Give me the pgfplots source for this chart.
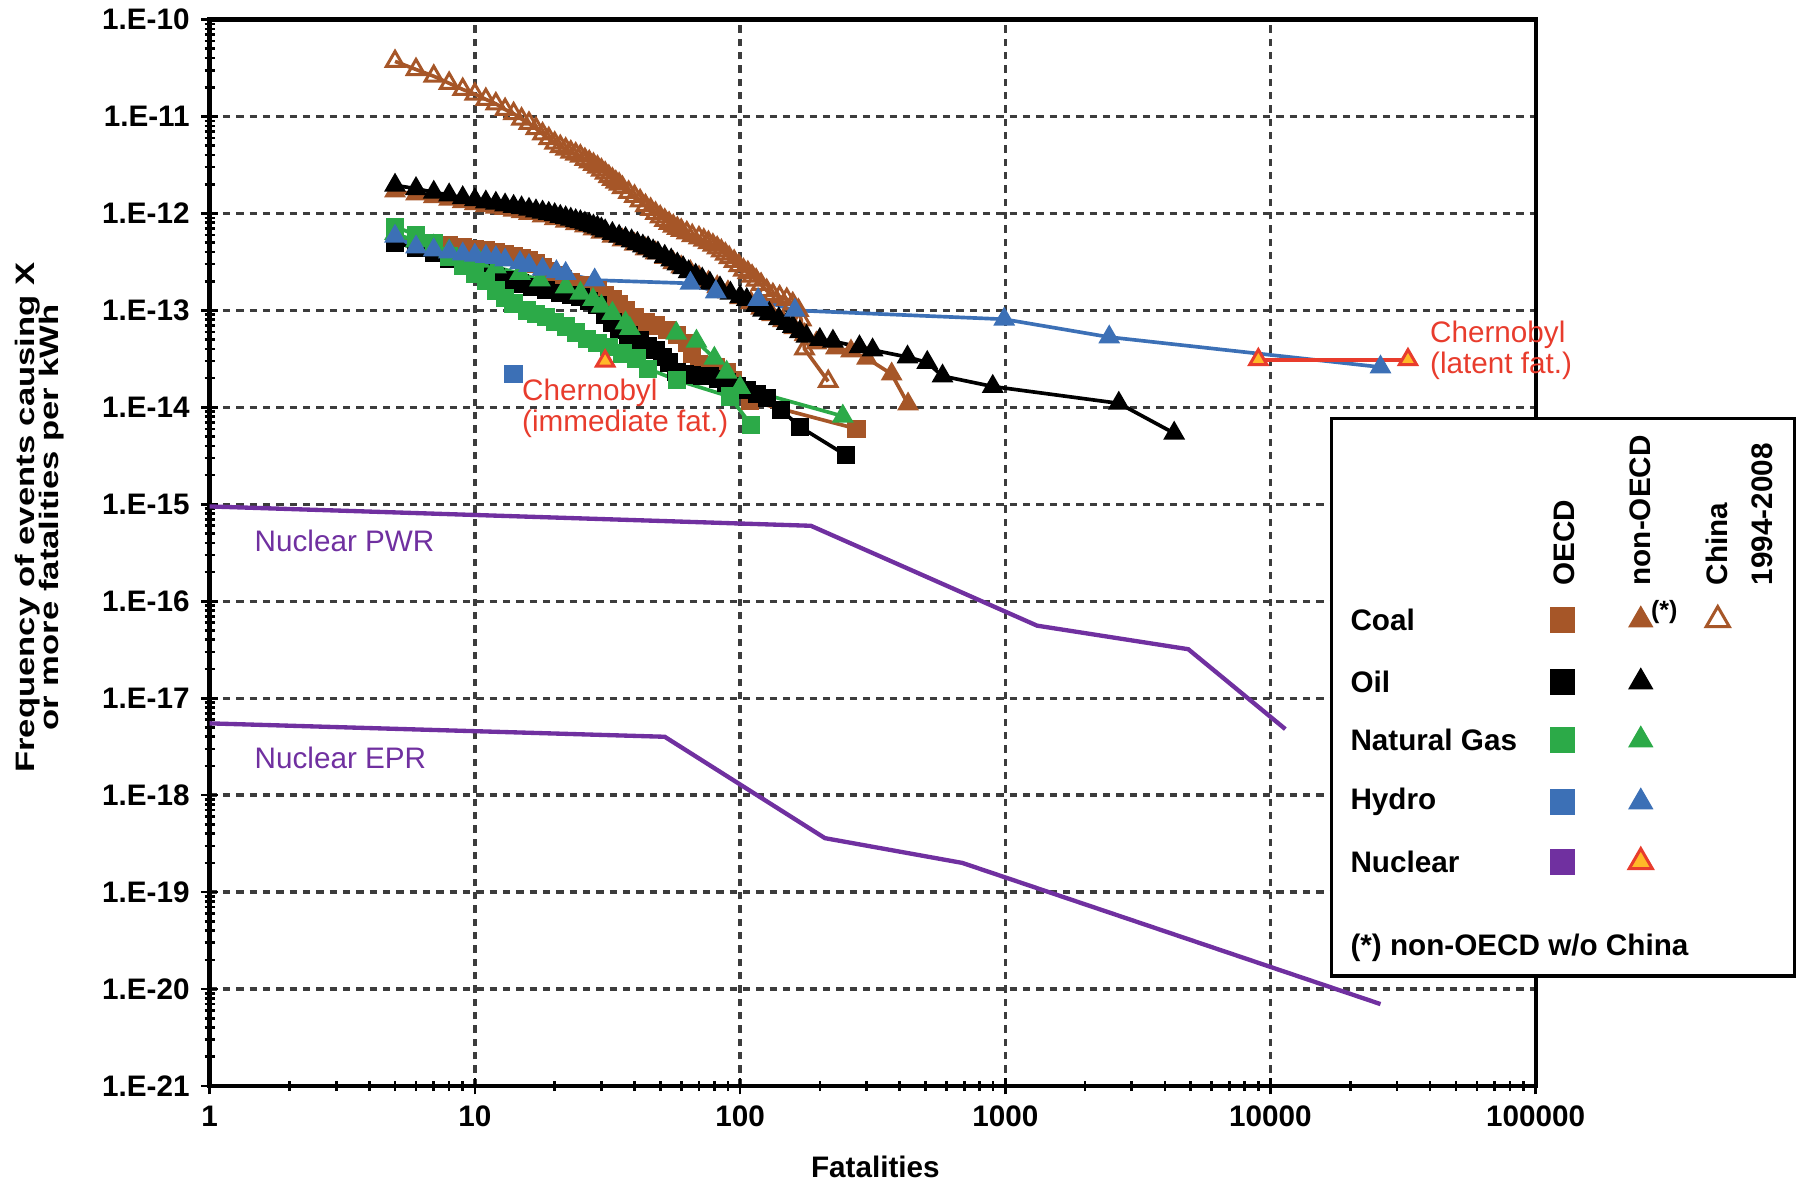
\documentclass[border=0pt]{standalone}
\usepackage{pgfplots}
\pgfplotsset{compat=1.18}
\usepackage{fontspec}
\setmainfont{Liberation Sans}
\usepackage{graphicx}

\definecolor{coal}{RGB}{166,86,40}
\definecolor{gas}{RGB}{44,170,72}
\definecolor{hydro}{RGB}{60,112,182}
\definecolor{nuc}{RGB}{112,48,160}
\definecolor{cher}{RGB}{232,60,45}
\definecolor{chfill}{RGB}{255,185,40}
\definecolor{gridc}{RGB}{60,60,60}

\begin{document}
\begin{tikzpicture}
\begin{axis}[
  at={(0pt,0pt)}, anchor=south west,
  scale only axis, width=397.8pt, height=319.95pt,
  xmode=log, ymode=log,
  xmin=1, xmax=100000, ymin=1e-21, ymax=1e-10,
  xtickten={0,...,5}, ytickten={-21,...,-10},
  xticklabels={1,10,100,1000,10000,100000},
  yticklabels={1.E-21,1.E-20,1.E-19,1.E-18,1.E-17,1.E-16,1.E-15,1.E-14,1.E-13,1.E-12,1.E-11,1.E-10},
  tick label style={font=\fontsize{8.9}{10}\selectfont\bfseries},
  grid=major,
  major grid style={gridc, line width=1pt, dash pattern=on 2.2pt off 1.8pt},
  axis line style={line width=1.3pt},
  tick style={black, line width=0.8pt},
  tick align=center, major tick length=5pt, minor tick length=3pt,
  tick pos=left,
  xlabel={Fatalities},
  xlabel style={font=\fontsize{8.9}{10}\selectfont\bfseries, at={(axis description cs:0.502,-0.0756)}, anchor=center},
  ylabel={\scalebox{1.3}[1]{\begin{tabular}{@{}c@{}}Frequency of events causing X\\[-1.2pt] or more fatalities per kWh\end{tabular}}},
  ylabel style={font=\fontsize{8}{8.4}\selectfont\bfseries, at={(axis description cs:-0.127,0.533)}, anchor=center},
  clip=false,
  every axis plot/.append style={line width=1.1pt},
]
% China 1994-2008 (open triangles)
\addplot[coal, mark=triangle, mark size=3pt, mark options={fill=white, line width=0.9pt}] coordinates {
(5,3.7e-11)(6,3.05e-11)(7,2.6e-11)(8,2.2e-11)(9,1.9e-11)(10,1.7e-11)(11,1.5e-11)(12,1.35e-11)(13,1.18e-11)(14,1.07e-11)(15,9.4e-12)(16,8.5e-12)(17,7.5e-12)(18,6.6e-12)(19,5.9e-12)(20,5.3e-12)(21,4.9e-12)(22,4.6e-12)(23,4.3e-12)(24,4.1e-12)(25,3.9e-12)(26,3.6e-12)(27,3.4e-12)(28,3.2e-12)(29,3.0e-12)(30,2.8e-12)(31,2.6e-12)(32,2.4e-12)(33,2.25e-12)(34,2.1e-12)(35,2.0e-12)(36,1.85e-12)(38,1.65e-12)(40,1.5e-12)(42,1.35e-12)(44,1.2e-12)(46,1.1e-12)(48,1.0e-12)(50,9.2e-13)(52,8.5e-13)(54,7.9e-13)(56,7.4e-13)(58,7.0e-13)(60,6.7e-13)(63,6.3e-13)(66,5.9e-13)(70,5.6e-13)(73,5.3e-13)(76,5.0e-13)(79,4.7e-13)(82,4.4e-13)(85,4.1e-13)(88,3.8e-13)(91,3.5e-13)(95,3.2e-13)(99,2.9e-13)(103,2.6e-13)(107,2.45e-13)(111,2.25e-13)(115,2.05e-13)(120,1.85e-13)(126,1.6e-13)(133,1.45e-13)(141,1.38e-13)(150,1.3e-13)(158,1.17e-13)(166,1.0e-13)(170,8e-14)(175,4.0e-14)(215,1.85e-14)
};
% Coal non-OECD (filled triangles)
\addplot[coal, mark=triangle*, mark size=2.7pt] coordinates {
(5,1.7e-12)(6,1.58e-12)(7,1.48e-12)(8,1.4e-12)(9,1.32e-12)(10,1.26e-12)(11,1.2e-12)(12,1.16e-12)(13,1.12e-12)(14,1.08e-12)(15,1.04e-12)(16,1.0e-12)(18,9.4e-13)(20,8.8e-13)(22,8.3e-13)(24,7.8e-13)(26,7.4e-13)(28,6.9e-13)(30,6.4e-13)(33,5.8e-13)(36,5.3e-13)(40,4.8e-13)(44,4.3e-13)(48,3.9e-13)(52,3.5e-13)(56,3.1e-13)(60,2.8e-13)(65,2.5e-13)(70,2.2e-13)(76,1.95e-13)(82,1.75e-13)(90,1.55e-13)(100,1.35e-13)(110,1.2e-13)(120,1.05e-13)(132,9.0e-14)(145,7.8e-14)(160,6.6e-14)(175,5.6e-14)(194,4.6e-14)(230,4.1e-14)(262,3.8e-14)(301,3.2e-14)(373,2.2e-14)(430,1.08e-14)
};
% Oil non-OECD (black triangles)
\addplot[black, mark=triangle*, mark size=2.7pt] coordinates {
(5,1.95e-12)(6,1.8e-12)(7,1.65e-12)(8,1.55e-12)(9,1.45e-12)(10,1.38e-12)(11,1.31e-12)(12,1.27e-12)(13,1.22e-12)(14,1.18e-12)(15,1.14e-12)(16,1.1e-12)(17,1.06e-12)(18,1.03e-12)(19,1.0e-12)(20,9.7e-13)(21,9.3e-13)(22,9.0e-13)(23,8.7e-13)(24,8.4e-13)(25,8.2e-13)(26,7.9e-13)(27,7.7e-13)(28,7.4e-13)(29,7.2e-13)(30,6.9e-13)(31,6.6e-13)(33,6.2e-13)(35,5.8e-13)(37,5.5e-13)(39,5.2e-13)(41,4.9e-13)(43,4.6e-13)(45,4.4e-13)(47,4.1e-13)(49,3.9e-13)(52,3.6e-13)(55,3.3e-13)(58,3.0e-13)(61,2.75e-13)(64,2.5e-13)(68,2.3e-13)(72,2.1e-13)(77,1.9e-13)(84,1.7e-13)(92,1.5e-13)(100,1.38e-13)(106,1.29e-13)(115,1.12e-13)(122,1.0e-13)(129,9.3e-14)(140,8.2e-14)(150,7.3e-14)(158,6.8e-14)(168,6.0e-14)(178,5.4e-14)(200,5.0e-14)(224,4.8e-14)(282,4.2e-14)(316,3.9e-14)(428,3.3e-14)(508,2.9e-14)(580,2.1e-14)(897,1.64e-14)(2680,1.1e-14)(4335,5.4e-15)
};
% Coal OECD (squares)
\addplot[coal, mark=square*, mark size=2.2pt] coordinates {
(5,5.3e-13)(6,5.1e-13)(7,4.9e-13)(8,4.7e-13)(9,4.5e-13)(10,4.3e-13)(11,4.15e-13)(12,4.0e-13)(13,3.8e-13)(14,3.6e-13)(15,3.45e-13)(16,3.3e-13)(17,3.05e-13)(18,2.8e-13)(19,2.55e-13)(20,2.3e-13)(21.5,2.1e-13)(23,1.95e-13)(25,1.8e-13)(27,1.7e-13)(29,1.6e-13)(31,1.45e-13)(33,1.3e-13)(35,1.15e-13)(37,1.0e-13)(40,8.6e-14)(44,7.6e-14)(48,7.0e-14)(53,6.3e-14)(58,5.6e-14)(63,4.6e-14)(66,3.6e-14)(70,2.8e-14)(76,2.7e-14)(81,2.6e-14)(89,2.3e-14)(94,1.9e-14)(100,1.5e-14)(109,1.17e-14)(275,6.0e-15)
};
% Oil OECD (squares)
\addplot[black, mark=square*, mark size=2.2pt] coordinates {
(5,5.0e-13)(6,4.4e-13)(7,3.9e-13)(8,3.4e-13)(9,3.0e-13)(10,2.7e-13)(11,2.45e-13)(12,2.2e-13)(13,2.05e-13)(14.8,1.9e-13)(16.5,1.75e-13)(18.6,1.62e-13)(21,1.5e-13)(23,1.43e-13)(25,1.38e-13)(27,1.25e-13)(29,1.13e-13)(31,9e-14)(33,7.5e-14)(35,6.3e-14)(38,5.6e-14)(42,4.9e-14)(45,4.3e-14)(48,3.9e-14)(51,3.3e-14)(54,2.9e-14)(57.6,2.3e-14)(62,2.2e-14)(66,2.15e-14)(72,2.12e-14)(77,2.1e-14)(83,1.95e-14)(89,1.8e-14)(97,1.65e-14)(106,1.5e-14)(116,1.37e-14)(126,1.24e-14)(143,9.4e-15)(168,6.3e-15)(251,3.2e-15)
};
% Natural gas OECD (squares)
\addplot[gas, mark=square*, mark size=2.2pt] coordinates {
(5,7.3e-13)(6,6.0e-13)(7,4.9e-13)(8,3.6e-13)(9,2.9e-13)(10,2.4e-13)(11,2.0e-13)(12,1.6e-13)(13,1.35e-13)(14,1.18e-13)(15.7,1.0e-13)(17,9.2e-14)(18.6,8.6e-14)(20,7.6e-14)(22,6.8e-14)(24,5.9e-14)(26.4,5.1e-14)(29,4.6e-14)(32,4.2e-14)(36,3.6e-14)(40.7,3.2e-14)(45,2.5e-14)(58,1.9e-14)(91.5,1.29e-14)(110,6.6e-15)
};
% Natural gas non-OECD (triangles)
\addplot[gas, mark=triangle*, mark size=2.7pt] coordinates {
(5,6.2e-13)(6,5.2e-13)(7,4.6e-13)(8,4.1e-13)(9,3.6e-13)(10.4,3.2e-13)(12,2.8e-13)(14.8,2.4e-13)(17.6,2.05e-13)(22,1.74e-13)(25,1.5e-13)(27.9,1.29e-13)(30,1.1e-13)(33,9.3e-14)(37,7.4e-14)(38.4,6.5e-14)(57.5,5.8e-14)(68.5,4.8e-14)(80,3.2e-14)(89,2.3e-14)(100,1.6e-14)(244,8.1e-15)
};
% Hydro non-OECD (triangles)
\addplot[hydro, mark=triangle*, mark size=2.7pt] coordinates {
(5,5.8e-13)(6,4.5e-13)(7,4.2e-13)(8,4.0e-13)(9,3.8e-13)(10,3.7e-13)(11,3.6e-13)(12,3.5e-13)(13,3.3e-13)(14.8,3.1e-13)(16,2.9e-13)(18,2.65e-13)(20.3,2.5e-13)(22,2.4e-13)(28.3,2.05e-13)(65,1.9e-13)(81,1.55e-13)(117,1.29e-13)(161,1.0e-13)(991,8.1e-14)(2466,5.3e-14)(26000,2.6e-14)
};
% Hydro OECD (single square)
\addplot[hydro, only marks, mark=square*, mark size=2.2pt] coordinates {(14,2.2e-14)};
% Nuclear PWR / EPR
\addplot[nuc, no marks, line width=1.3pt] coordinates {(1,9.5e-16)(185,6.0e-16)(1318,5.6e-17)(4900,3.2e-17)(11380,4.8e-18)};
\addplot[nuc, no marks, line width=1.3pt] coordinates {(1,5.5e-18)(52,4.0e-18)(209,3.6e-19)(689,2.0e-19)(26000,7e-21)};
% Chernobyl
\addplot[cher, mark=triangle*, mark size=3pt, mark options={fill=chfill, draw=cher, line width=0.9pt}] coordinates {(9000,3.1e-14)(33000,3.1e-14)};
\addplot[cher, only marks, mark=triangle*, mark size=3pt, mark options={fill=chfill, draw=cher, line width=0.9pt}] coordinates {(31,3.0e-14)};

\node[anchor=west, text=nuc, font=\fontsize{8.9}{10}\selectfont] at (axis cs:1.335,4.18e-16) {Nuclear PWR};
\node[anchor=west, text=nuc, font=\fontsize{8.9}{10}\selectfont] at (axis cs:1.335,2.4e-18) {Nuclear EPR};
\node[anchor=west, text=cher, align=left, inner sep=0pt, font=\fontsize{8.9}{9.3}\selectfont] at (axis cs:15,9.7e-15) {Chernobyl\\(immediate fat.)};
\node[anchor=west, text=cher, align=left, inner sep=0pt, font=\fontsize{8.9}{9.3}\selectfont] at (axis cs:39800,3.84e-14) {Chernobyl\\(latent fat.)};
\end{axis}

% Legend box
\begin{axis}[
  at={(336.6pt,33pt)}, anchor=south west,
  scale only axis, width=138.8pt, height=167.2pt,
  xmin=1331.8, xmax=1794.6, ymin=418.7, ymax=976, y dir=reverse,
  ticks=none, axis line style={line width=1pt},
  axis background/.style={fill=white},
  clip=false,
]
\addplot[coal, only marks, mark=square*, mark size=3.6pt] coordinates {(1563,620)};
\addplot[black, only marks, mark=square*, mark size=3.6pt] coordinates {(1563,682)};
\addplot[gas, only marks, mark=square*, mark size=3.6pt] coordinates {(1563,740)};
\addplot[hydro, only marks, mark=square*, mark size=3.6pt] coordinates {(1563,802)};
\addplot[nuc, only marks, mark=square*, mark size=3.6pt] coordinates {(1563,862)};
\addplot[coal, only marks, mark=triangle*, mark size=4pt] coordinates {(1641,620)};
\addplot[black, only marks, mark=triangle*, mark size=4pt] coordinates {(1641,682)};
\addplot[gas, only marks, mark=triangle*, mark size=4pt] coordinates {(1641,740)};
\addplot[hydro, only marks, mark=triangle*, mark size=4pt] coordinates {(1641,802)};
\addplot[only marks, mark=triangle*, mark size=4pt, mark options={fill=chfill, draw=cher, line width=0.9pt}] coordinates {(1641,862)};
\addplot[coal, only marks, mark=triangle, mark size=4pt, mark options={fill=white, line width=0.9pt}] coordinates {(1718,620)};
\begin{scope}[every node/.style={font=\fontsize{8.9}{10}\selectfont\bfseries, inner sep=0pt}]
\node[anchor=west] at (axis cs:1350,620) {Coal};
\node[anchor=west] at (axis cs:1350,682) {Oil};
\node[anchor=west] at (axis cs:1350,740) {Natural Gas};
\node[anchor=west] at (axis cs:1350,802) {Hydro};
\node[anchor=west] at (axis cs:1350,862) {Nuclear};
\node[anchor=west] at (axis cs:1350,947.7) {(*) non-OECD w/o China};
\node[rotate=90, anchor=west] at (axis cs:1564,586) {OECD};
\node[rotate=90, anchor=west] at (axis cs:1641,586) {non-OECD};
\node[rotate=90, anchor=west] at (axis cs:1717.5,586) {China};
\node[rotate=90, anchor=west] at (axis cs:1763,586) {1994-2008};
\node[anchor=center, font=\fontsize{7.5}{8}\selectfont\bfseries] at (axis cs:1664.5,611.7) {(*)};
\end{scope}
\end{axis}
\pgfresetboundingbox
\path[use as bounding box] (-62.9pt,-29.4pt) rectangle (476.2pt,325.8pt);
\end{tikzpicture}
\end{document}
